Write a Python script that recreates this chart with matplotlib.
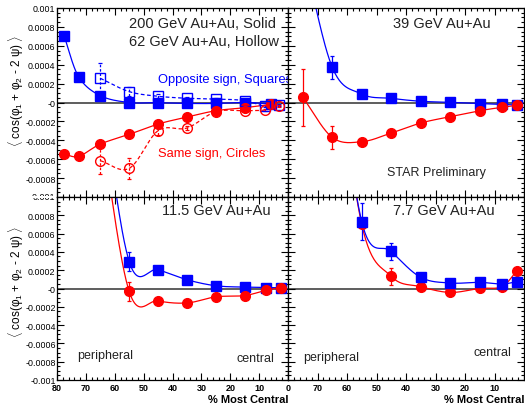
import numpy as np
import matplotlib
matplotlib.use('Agg')
import matplotlib.pyplot as plt
from matplotlib.ticker import FixedLocator, FixedFormatter, MultipleLocator
from matplotlib.transforms import Bbox

# ---------------- data ----------------
ytick_vals = [-0.001, -0.0008, -0.0006, -0.0004, -0.0002, 0.0, 0.0002, 0.0004, 0.0006, 0.0008, 0.001]
ytick_labels = ['-0.001', '-0.0008', '-0.0006', '-0.0004', '-0.0002', '-0',
                '0.0002', '0.0004', '0.0006', '0.0008', '0.001']
xtick_vals = [80, 70, 60, 50, 40, 30, 20, 10, 0]
xtick_labels_left = ['80', '70', '60', '50', '40', '30', '20', '10', '0']
xtick_labels_right = ['', '70', '60', '50', '40', '30', '20', '10', '']

# 200 GeV (solid)
cent_200 = [77.5, 72.5, 65, 55, 45, 35, 25, 15, 6]
os_200 = [0.00070, 0.000273, 0.000072, 0.0, -0.000002, -0.00001, -0.00001, 0.0, -0.000013]
ss_200 = [-0.000546, -0.00057, -0.00044, -0.000337, -0.000228, -0.000154, -0.000087, -0.000055, -0.00002]
# 62 GeV (hollow)
cent_62 = [65, 55, 45, 35, 25, 15, 8, 3]
os_62 = [0.000256, 0.000115, 0.000066, 0.000045, 0.000037, 0.00002, -0.00004, -0.000023]
os_62_err = [0.00016, 0.00005, 0.00002, 0.00001, 0.00001, 0.00001, 0.00001, 0.00001]
ss_62 = [-0.000616, -0.000697, -0.000298, -0.00027, -0.000097, -0.000087, -0.00008, -0.00004]
ss_62_err = [0.00014, 0.00011, 0.00005, 0.00002, 0.00001, 0.00001, 0.00001, 0.00001]
# 39 GeV
cent_39 = [75, 65, 55, 45, 35, 25, 15, 7.5, 2.5]
os_39 = [0.0016, 0.000373, 0.00009, 0.000044, 0.000013, 0.000002, -0.000012, -0.00002, -0.000026]
os_39_err = [0.0, 0.00012, 0.00001, 0.00001, 0.00001, 0.00001, 0.00001, 0.00001, 0.00001]
ss_39 = [0.000055, -0.000369, -0.000415, -0.000323, -0.000217, -0.00015, -0.000087, -0.000051, -0.00003]
ss_39_err = [0.0003, 0.00012, 0.00001, 0.00001, 0.00001, 0.00001, 0.00001, 0.00001, 0.00001]
# 11.5 GeV
cent_11 = [65, 55, 45, 35, 25, 15, 7.5, 2.5]
os_11 = [0.0022, 0.000295, 0.000206, 0.000096, 0.00003, 0.000015, 0.00001, 0.000008]
os_11_err = [0.0, 0.0001, 0.00001, 0.00001, 0.00001, 0.00001, 0.00001, 0.00001]
ss_11 = [0.0018, -0.000032, -0.000135, -0.000158, -0.000091, -0.000077, -0.000018, 0.00001]
ss_11_err = [0.0, 0.0001, 0.00001, 0.00001, 0.00001, 0.00001, 0.00001, 0.00001]
# 7.7 GeV
cent_7 = [65, 55, 45, 35, 25, 15, 7.5, 2.5]
os_7 = [0.003, 0.00073, 0.000405, 0.000122, 0.00006, 0.000067, 0.000049, 0.000074]
os_7_err = [0.0, 0.0002, 0.00009, 0.00001, 0.00001, 0.00001, 0.00001, 0.00001]
ss_7 = [0.003, 0.0007, 0.000133, 0.00002, -0.000043, 0.000001, 0.00002, 0.00019]
ss_7_err = [0.0, 0.0, 0.00009, 0.00001, 0.00001, 0.00001, 0.00001, 0.00001]

BLUE = '#0000ff'
RED = '#ff0000'

# ---------------- figure ----------------
W, H = 525, 406
plt.rcParams['font.family'] = ['Liberation Sans', 'DejaVu Sans']
plt.rcParams['mathtext.fontset'] = 'custom'
plt.rcParams['mathtext.rm'] = 'Liberation Sans'
plt.rcParams['mathtext.it'] = 'Liberation Sans:italic'
fig = plt.figure(figsize=(W / 100, H / 100), dpi=100)
fig.patch.set_facecolor('white')


def rect(x0, y0, x1, y1):
    return [x0 / W, 1 - y1 / H, (x1 - x0) / W, (y1 - y0) / H]


def smooth(x, y, sx=2.9, sy=92000.0, n=30):
    P = np.column_stack([np.asarray(x, float) * sx, np.asarray(y, float) * sy])
    Pe = np.vstack([2 * P[0] - P[1], P, 2 * P[-1] - P[-2]])
    t = np.linspace(0, 1, n)[:, None]
    h00 = 2 * t**3 - 3 * t**2 + 1
    h10 = t**3 - 2 * t**2 + t
    h01 = -2 * t**3 + 3 * t**2
    h11 = t**3 - t**2
    out = []
    for i in range(1, len(Pe) - 2):
        p0, p1, p2, p3 = Pe[i - 1], Pe[i], Pe[i + 1], Pe[i + 2]
        m1 = (p2 - p0) / 2
        m2 = (p3 - p1) / 2
        seg = h00 * p1 + h10 * m1 + h01 * p2 + h11 * m2
        out.append(seg if i == 1 else seg[1:])
    C = np.vstack(out)
    return C[:, 0] / sx, C[:, 1] / sy


YFS = 6.4


def style_axes(ax, xlabels, ylabels):
    ax.set_xlim(80, 0)
    ax.set_ylim(-0.001, 0.001)
    ax.xaxis.set_major_locator(FixedLocator(xtick_vals))
    ax.xaxis.set_minor_locator(MultipleLocator(2))
    ax.yaxis.set_major_locator(FixedLocator(ytick_vals))
    ax.yaxis.set_minor_locator(MultipleLocator(0.00005))
    if xlabels is None:
        ax.set_xticklabels([])
    else:
        ax.xaxis.set_major_formatter(FixedFormatter(xlabels))
    if ylabels is None:
        ax.set_yticklabels([])
    else:
        ax.yaxis.set_major_formatter(FixedFormatter(ylabels))
    ax.tick_params(which='both', direction='in', top=True, right=True, width=0.8)
    ax.tick_params(which='major', length=5)
    ax.tick_params(which='minor', length=2.5)
    ax.tick_params(axis='y', which='major', pad=1, labelsize=YFS)
    ax.tick_params(axis='x', which='major', pad=2, labelsize=6.5)
    for lab in ax.get_xticklabels():
        lab.set_fontweight('bold')
    for s in ax.spines.values():
        s.set_linewidth(0.9)
    ax.axhline(0, color='#505050', lw=1.3, zorder=1)


def series(ax, x, y, err, color, marker, hollow=False, ms=6.5):
    ls = (0, (3, 2)) if hollow else '-'
    cx, cy = smooth(x, y)
    ax.plot(cx, cy, color=color, lw=0.9, ls=ls, zorder=2)
    if err is not None:
        cont = ax.errorbar(x, y, yerr=err, fmt='none', ecolor=color, elinewidth=0.9,
                           capsize=1.5, capthick=0.9, zorder=3)
        if hollow:
            for coll in cont[2]:
                coll.set_linestyle((0, (2, 1.5)))
    ax.plot(x, y, ls='none', marker=marker, ms=ms, color=color,
            mfc='none' if hollow else color, mew=1.0, zorder=4)


axUL = fig.add_axes(rect(57, 9, 288, 198))
axUR = fig.add_axes(rect(288, 9, 524, 198))
axLL = fig.add_axes(rect(57, 198, 288, 381))
axLR = fig.add_axes(rect(288, 198, 524, 381))

ylab_up = ['' if v == -0.001 else l for v, l in zip(ytick_vals, ytick_labels)]
ylab_lo = ['' if v == 0.001 else l for v, l in zip(ytick_vals, ytick_labels)]

style_axes(axUL, None, ylab_up)
style_axes(axUR, None, None)
style_axes(axLL, xtick_labels_left, ylab_lo)
style_axes(axLR, xtick_labels_right, None)
for ax in (axUR, axLR):
    ax.set_facecolor('white')

# partial boundary labels (cut by the neighbouring pad, as in the reference)
t1 = axUL.text(-0.01, -0.001, '-0.001', transform=axUL.get_yaxis_transform(),
               ha='right', va='center', fontsize=YFS, clip_on=True)
t1.set_clip_box(Bbox.from_extents(0, H - 197, W, H))
t2 = axLL.text(-0.01, 0.001, '0.001', transform=axLL.get_yaxis_transform(),
               ha='right', va='center', fontsize=YFS, clip_on=True)
t2.set_clip_box(Bbox.from_extents(0, 0, W, H - 199))

# 200 / 62 GeV
series(axUL, cent_200, os_200, None, BLUE, 's')
series(axUL, cent_200, ss_200, None, RED, 'o', ms=7)
series(axUL, cent_62, os_62, os_62_err, BLUE, 's', hollow=True)
series(axUL, cent_62, ss_62, ss_62_err, RED, 'o', hollow=True, ms=7)
# 39 GeV
series(axUR, cent_39, os_39, os_39_err, BLUE, 's')
series(axUR, cent_39, ss_39, ss_39_err, RED, 'o', ms=7)
# 11.5 GeV
series(axLL, cent_11, os_11, os_11_err, BLUE, 's')
series(axLL, cent_11, ss_11, ss_11_err, RED, 'o', ms=7)
# 7.7 GeV
series(axLR, cent_7, ss_7, ss_7_err, RED, 'o', ms=7)
series(axLR, cent_7, os_7, os_7_err, BLUE, 's')


def ptext(ax, x, y, s, **kw):
    bb = ax.get_position()
    fx = (x / W - bb.x0) / bb.width
    fy = ((1 - y / H) - bb.y0) / bb.height
    return ax.text(fx, fy, s, transform=ax.transAxes, va='center', ha='left',
                   clip_on=False, **kw)


FS = 10.5
TC = '#222222'
ptext(axUL, 129, 24, '200 GeV Au+Au, Solid', fontsize=FS, color=TC)
ptext(axUL, 129, 42, '62 GeV Au+Au, Hollow', fontsize=FS, color=TC)
ptext(axUL, 158, 80, 'Opposite sign, Squares', fontsize=9.3, color=BLUE)
ptext(axUL, 158, 154, 'Same sign, Circles', fontsize=9.3, color=RED)
ptext(axUR, 393, 24, '39 GeV Au+Au', fontsize=FS, color=TC)
ptext(axUR, 387, 173, 'STAR Preliminary', fontsize=9, color=TC)
ptext(axLL, 162, 211, '11.5 GeV Au+Au', fontsize=FS, color=TC)
ptext(axLL, 77, 356, 'peripheral', fontsize=9, color=TC)
ptext(axLL, 236, 359, 'central', fontsize=9, color=TC)
ptext(axLR, 393, 211, '7.7 GeV Au+Au', fontsize=FS, color=TC)
ptext(axLR, 303, 358, 'peripheral', fontsize=9, color=TC)
ptext(axLR, 474, 353, 'central', fontsize=9, color=TC)

for ax in (axLL, axLR):
    ax.text(1.0, -0.105, '% Most Central', transform=ax.transAxes, ha='right',
            va='center', fontsize=8, fontweight='bold')

ylab = r'$\langle$ cos(φ$_{1}$ + φ$_{2}$ - 2 ψ) $\rangle$'
for ax, yc in ((axUL, 91), (axLL, 282)):
    fig.text(16 / W, 1 - yc / H, ylab, rotation=90, ha='center', va='center', fontsize=8.5)

fig.savefig('out.png', dpi=100, facecolor='white')
